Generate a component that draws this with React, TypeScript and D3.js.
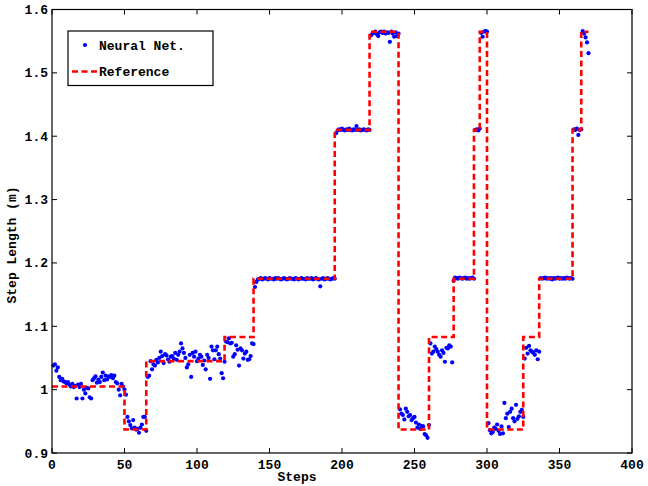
import React from 'react';
import * as d3 from 'd3';

// reference step profile: start step of each plateau and its level
const refStarts = [0, 50, 65, 119, 139, 195, 219, 239, 260, 277, 291, 295, 300, 325, 336, 359, 365];
const refLevels = [1.005, 0.937, 1.045, 1.083, 1.175, 1.41, 1.565, 0.937, 1.083, 1.175, 1.41, 1.565, 0.937, 1.083, 1.175, 1.41, 1.565];
const refEnd = 370;

// neural net estimates, one per step (steps 1..370), grouped by plateau
const nnA = [1.038, 1.040, 1.030, 1.035, 1.020, 1.015, 1.017, 1.013, 1.012, 1.010, 1.012, 1.008, 1.005, 1.009, 1.004, 1.006, 0.986, 1.008, 1.004, 1.009, 0.986, 1.000, 0.994, 1.003, 1.002, 0.988, 0.986, 1.015, 1.018, 1.021, 1.011, 1.016, 1.012, 1.020, 1.027, 1.015, 1.022, 1.016, 1.021, 1.020, 1.023, 1.018, 1.022, 1.012, 1.010, 1.000, 0.991, 1.009, 1.005, 1.000];
const nnB = [0.992, 0.957, 0.950, 0.944, 0.939, 0.952, 0.940, 0.937, 0.938, 0.932, 0.940, 0.945, 0.957, 0.957, 0.935];
const nnC = [1.020, 1.022, 1.045, 1.032, 1.040, 1.038, 1.047, 1.043, 1.050, 1.060, 1.053, 1.042, 1.056, 1.054, 1.048, 1.044, 1.052, 1.053, 1.049, 1.058, 1.047, 1.055, 1.060, 1.073, 1.065, 1.058, 1.050, 1.035, 1.040, 1.055, 1.020, 1.058, 1.052, 1.060, 1.045, 1.049, 1.055, 1.052, 1.039, 1.046, 1.032, 1.055, 1.050, 1.017, 1.068, 1.062, 1.048, 1.062, 1.068, 1.056, 1.049, 1.026, 1.018, 1.044];
const nnD = [1.076, 1.075, 1.081, 1.073, 1.074, 1.052, 1.056, 1.070, 1.063, 1.038, 1.065, 1.062, 1.049, 1.057, 1.060, 1.047, 1.048, 1.053, 1.073, 1.072];
const nnE = [1.162, 1.170, 1.174, 1.175, 1.176, 1.174, 1.175, 1.176, 1.175, 1.174, 1.176, 1.175, 1.175, 1.174, 1.176, 1.175, 1.176, 1.175, 1.174, 1.175, 1.176, 1.175, 1.174, 1.175, 1.176, 1.175, 1.175, 1.174, 1.176, 1.175, 1.174, 1.175, 1.176, 1.175, 1.175, 1.174, 1.176, 1.175, 1.175, 1.176, 1.174, 1.175, 1.176, 1.175, 1.174, 1.163, 1.175, 1.176, 1.174, 1.175, 1.176, 1.175, 1.174, 1.175, 1.176, 1.175];
const nnF = [1.405, 1.409, 1.411, 1.410, 1.412, 1.410, 1.409, 1.411, 1.410, 1.412, 1.410, 1.409, 1.411, 1.410, 1.416, 1.410, 1.411, 1.409, 1.410, 1.411, 1.410, 1.409, 1.411, 1.410];
const nnG = [1.559, 1.562, 1.563, 1.565, 1.561, 1.558, 1.564, 1.565, 1.563, 1.565, 1.562, 1.564, 1.563, 1.549, 1.565, 1.562, 1.557, 1.564, 1.558, 1.562];
const nnH = [0.969, 0.962, 0.960, 0.953, 0.970, 0.965, 0.958, 0.960, 0.952, 0.955, 0.957, 0.948, 0.940, 0.945, 0.938, 0.943, 0.942, 0.930, 0.928, 0.924, 0.944];
const nnI = [1.073, 1.057, 1.060, 1.068, 1.064, 1.060, 1.055, 1.052, 1.062, 1.058, 1.044, 1.066, 1.065, 1.070, 1.068, 1.043, 1.172];
const nnJ = [1.177, 1.176, 1.175, 1.177, 1.176, 1.175, 1.176, 1.177, 1.175, 1.176, 1.175, 1.176, 1.177, 1.175];
const nnK = [1.410, 1.411, 1.409, 1.412];
const nnL = [1.563, 1.557, 1.565, 1.566, 1.565];
const nnM = [0.947, 0.936, 0.931, 0.933, 0.940, 0.938, 0.945, 0.935, 0.930, 0.942, 0.931, 0.979, 0.955, 0.962, 0.941, 0.965, 0.970, 0.955, 0.950, 0.976, 0.954, 0.958, 0.965, 0.968, 0.957];
const nnN = [1.049, 1.066, 1.057, 1.069, 1.062, 1.060, 1.058, 1.055, 1.062, 1.048, 1.060];
const nnO = [1.176, 1.175, 1.176, 1.177, 1.175, 1.176, 1.175, 1.176, 1.174, 1.176, 1.175, 1.176, 1.177, 1.175, 1.176, 1.175, 1.176, 1.175, 1.177, 1.176, 1.175, 1.176, 1.175];
const nnP = [1.411, 1.410, 1.412, 1.402, 1.410, 1.411];
const nnQ = [1.566, 1.562, 1.556, 1.548, 1.531];

const xTicks = [0, 50, 100, 150, 200, 250, 300, 350, 400];
const yTicks = [0.9, 1.0, 1.1, 1.2, 1.3, 1.4, 1.5, 1.6];

const W = 648, H = 486;
const M = { left: 52, right: 632, top: 9.5, bottom: 453 };
const FONT = "'Liberation Mono', 'DejaVu Sans Mono', monospace";

export default function App() {
  const x = d3.scaleLinear().domain([0, 400]).range([M.left, M.right]);
  const y = d3.scaleLinear().domain([0.9, 1.6]).range([M.bottom, M.top]);

  const nn = [nnA, nnB, nnC, nnD, nnE, nnF, nnG, nnH, nnI, nnJ, nnK, nnL, nnM, nnN, nnO, nnP, nnQ].flat();
  const nnPts = nn.map((v, i) => [i + 1, v] as [number, number]);

  const refPts: [number, number][] = refStarts.map((s, i) => [s, refLevels[i]]);
  refPts.push([refEnd, refLevels[refLevels.length - 1]]);
  const refLine = d3.line<[number, number]>()
    .x(d => x(d[0]))
    .y(d => y(d[1]))
    .curve(d3.curveStepAfter);

  const fmt = (v: number) => String(+v.toFixed(1));

  return (
    <svg width={W} height={H} style={{ position: 'absolute', left: 0, top: 0, background: '#fff' }}
      fontFamily={FONT} fontWeight="bold">
      <rect x={0} y={0} width={W} height={H} fill="#fff" />
      {/* data */}
      <g>
        {nnPts.map((d, i) => (
          <circle key={i} cx={x(d[0])} cy={y(d[1])} r={2.1} fill="#0000ff" />
        ))}
      </g>
      <path d={refLine(refPts) || ''} fill="none" stroke="#ff0000" strokeWidth={2.6} strokeDasharray="6,3.5" />

      {/* axes box */}
      <rect x={M.left} y={M.top} width={M.right - M.left} height={M.bottom - M.top} fill="none" stroke="#000" strokeWidth={1.2} />
      {xTicks.map(t => (
        <g key={'x' + t}>
          <line x1={x(t)} x2={x(t)} y1={M.bottom} y2={M.bottom - 5} stroke="#000" />
          <line x1={x(t)} x2={x(t)} y1={M.top} y2={M.top + 5} stroke="#000" />
          <text x={x(t)} y={469} textAnchor="middle" fontSize={13} fill="#000">{t}</text>
        </g>
      ))}
      {yTicks.map(t => (
        <g key={'y' + t}>
          <line x1={M.left} x2={M.left + 5} y1={y(t)} y2={y(t)} stroke="#000" />
          <line x1={M.right} x2={M.right - 5} y1={y(t)} y2={y(t)} stroke="#000" />
          <text x={48} y={y(t)} dy="0.35em" textAnchor="end" fontSize={13} fill="#000">{fmt(t)}</text>
        </g>
      ))}
      <text x={297} y={481} textAnchor="middle" fontSize={13} fill="#000">Steps</text>
      <text transform={`translate(16,${245}) rotate(-90)`} textAnchor="middle" fontSize={13} fill="#000">Step Length (m)</text>

      {/* legend */}
      <g>
        <rect x={68} y={31} width={145} height={54.5} fill="#fff" stroke="#000" strokeWidth={1.2} />
        <circle cx={85} cy={45} r={2.1} fill="#0000ff" />
        <text x={99} y={49.5} fontSize={13} fill="#000">Neural Net.</text>
        <line x1={72} x2={97} y1={71.5} y2={71.5} stroke="#ff0000" strokeWidth={2.6} strokeDasharray="6,3.5" />
        <text x={99} y={76} fontSize={13} fill="#000">Reference</text>
      </g>
    </svg>
  );
}
